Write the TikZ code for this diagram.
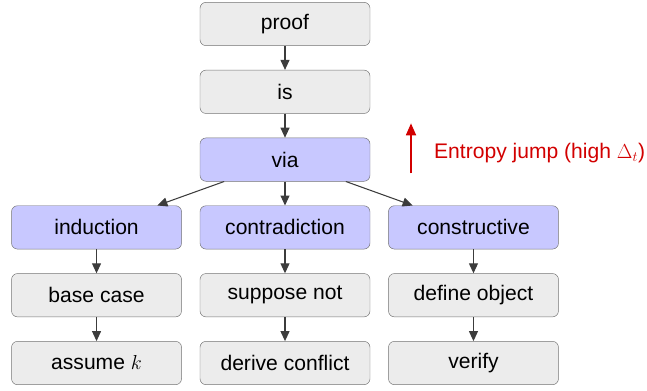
\documentclass[tikz,border=0pt]{standalone}
\usepackage{fontspec}
\setmainfont{Liberation Sans}
\usetikzlibrary{positioning,arrows.meta}
\definecolor{boxgray}{RGB}{236,236,236}
\definecolor{boxblue}{RGB}{200,200,255}
\definecolor{linegray}{RGB}{60,60,60}
\definecolor{jumpred}{RGB}{210,0,0}
\begin{document}
\begin{tikzpicture}[
    main/.style = {draw=black!55, fill=boxgray, rounded corners=0.18cm, minimum width=5.1cm,
                   minimum height=1.3cm, inner sep=0pt, font=\fontsize{18}{21}\selectfont},
    branch/.style = {main, fill=boxblue},
    link/.style = {draw=linegray, line width=0.9pt, -{Triangle[length=0.3cm,width=0.27cm]}},
    node distance = 0.72cm and 0.54cm]
    \useasboundingbox (0,0) rectangle (19.41,-11.73);
    \node[main] (proof) at (8.55,-0.72) {proof};
    \node[main] (is) [below=of proof] {is};
    \node[branch] (via) [below=of is] {via};
    \node[branch] (contra) [below=of via] {contradiction};
    \node[branch] (induct) [left=of contra] {induction};
    \node[branch] (constr) [right=of contra] {constructive};
    \node[main] (base) [below=of induct] {base case};
    \node[main] (assume) [below=of base] {assume $k$};
    \node[main] (suppose) [below=of contra] {suppose not};
    \node[main] (derive) [below=of suppose] {derive conflict};
    \node[main] (define) [below=of constr] {define object};
    \node[main] (verify) [below=of define] {verify};

    \draw[link] (proof) -- (is);
    \draw[link] (is) -- (via);
    \draw[link] (via) -- (induct);
    \draw[link] (via) -- (contra);
    \draw[link] (via) -- (constr);
    \draw[link] (induct) -- (base);
    \draw[link] (base) -- (assume);
    \draw[link] (contra) -- (suppose);
    \draw[link] (suppose) -- (derive);
    \draw[link] (constr) -- (define);
    \draw[link] (define) -- (verify);

    % entropy marker
    \coordinate (jumplow) at (12.33,-5.2);
    \coordinate (jumphigh) at (12.33,-3.7);
    \draw[jumpred, line width=1.5pt, -{Triangle[length=0.36cm,width=0.3cm]}] (jumplow) -- (jumphigh);
    \node[text=jumpred, anchor=west, font=\fontsize{18}{21}\selectfont] (jump) at (12.9,-4.6) {Entropy jump (high $\Delta_t$)};
\end{tikzpicture}
\end{document}
